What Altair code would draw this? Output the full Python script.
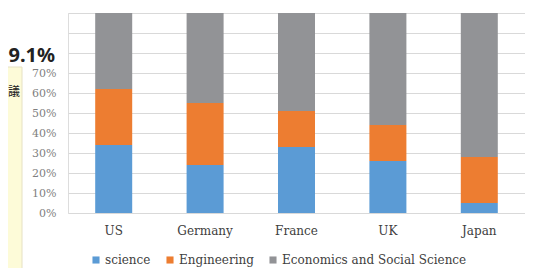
import altair as alt
import pandas as pd

countries = ["US", "Germany", "France", "UK", "Japan"]
fields = ["science", "Engineering", "Economics and Social Science"]
science = [34, 24, 33, 26, 5]
engineering = [28, 31, 18, 18, 23]
economics = [38, 45, 49, 56, 72]
colors = ["#5b9bd5", "#ed7d31", "#929396"]

rows = []
for i, c in enumerate(countries):
    for k, (f, vals) in enumerate(zip(fields, [science, engineering, economics])):
        rows.append({"country": c, "field": f, "value": vals[i] / 100, "order": k})
df = pd.DataFrame(rows)

serif = "DejaVu Serif"

bars = alt.Chart(df).mark_bar(size=37).encode(
    x=alt.X("country:N", sort=countries, title=None,
            scale=alt.Scale(paddingInner=0, paddingOuter=0),
            axis=alt.Axis(labelAngle=0, ticks=False, domain=False, labelPadding=12,
                          labelFont=serif, labelFontSize=12, labelColor="#404040")),
    y=alt.Y("value:Q", stack="zero", title=None,
            scale=alt.Scale(domain=[0, 1], nice=False),
            axis=alt.Axis(format="%", values=[i / 10 for i in range(11)],
                          labelExpr="datum.value > 0.75 ? '' : datum.label",
                          ticks=False, domain=False, labelPadding=12,
                          labelFont=serif, labelFontSize=11, labelColor="#7f7f7f",
                          gridColor="#d9d9d9", gridWidth=1)),
    color=alt.Color("field:N", sort=fields,
                    scale=alt.Scale(domain=fields, range=colors),
                    legend=alt.Legend(title=None, orient="none", direction="horizontal",
                                      legendX=22, legendY=241,
                                      symbolType="square", symbolSize=50,
                                      symbolStrokeWidth=0, symbolOpacity=1,
                                      labelFont=serif, labelFontSize=12,
                                      labelColor="#404040", columnPadding=13,
                                      labelOffset=3, labelLimit=0)),
    order=alt.Order("order:Q", sort="ascending"),
)

panel = alt.Chart(pd.DataFrame({"a": [0]})).mark_rect(
    color="#fdfbd8", stroke="#e6e1c4", strokeWidth=1
).encode(x=alt.value(-70), x2=alt.value(-46), y=alt.value(54), y2=alt.value(262))

big = alt.Chart(pd.DataFrame({"t": ["9.1%"]})).mark_text(
    align="right", baseline="alphabetic", font="Noto Sans", fontSize=20,
    fontWeight="bold", color="#222222"
).encode(text="t:N", x=alt.value(-13), y=alt.value(49))

kanji = alt.Chart(pd.DataFrame({"t": ["議"]})).mark_text(
    align="right", baseline="middle", font="Noto Sans CJK JP", fontSize=12,
    color="#222222"
).encode(text="t:N", x=alt.value(-48), y=alt.value(79))

chart = alt.layer(panel, bars, big, kanji).properties(
    width=457, height=200,
    autosize=alt.AutoSizeParams(type="none"),
    padding={"left": 60, "top": 5, "right": 0, "bottom": 55},
).configure_view(stroke=None).configure(background="white")

chart.save("out.html", embed_options={"renderer": "svg", "actions": False})
